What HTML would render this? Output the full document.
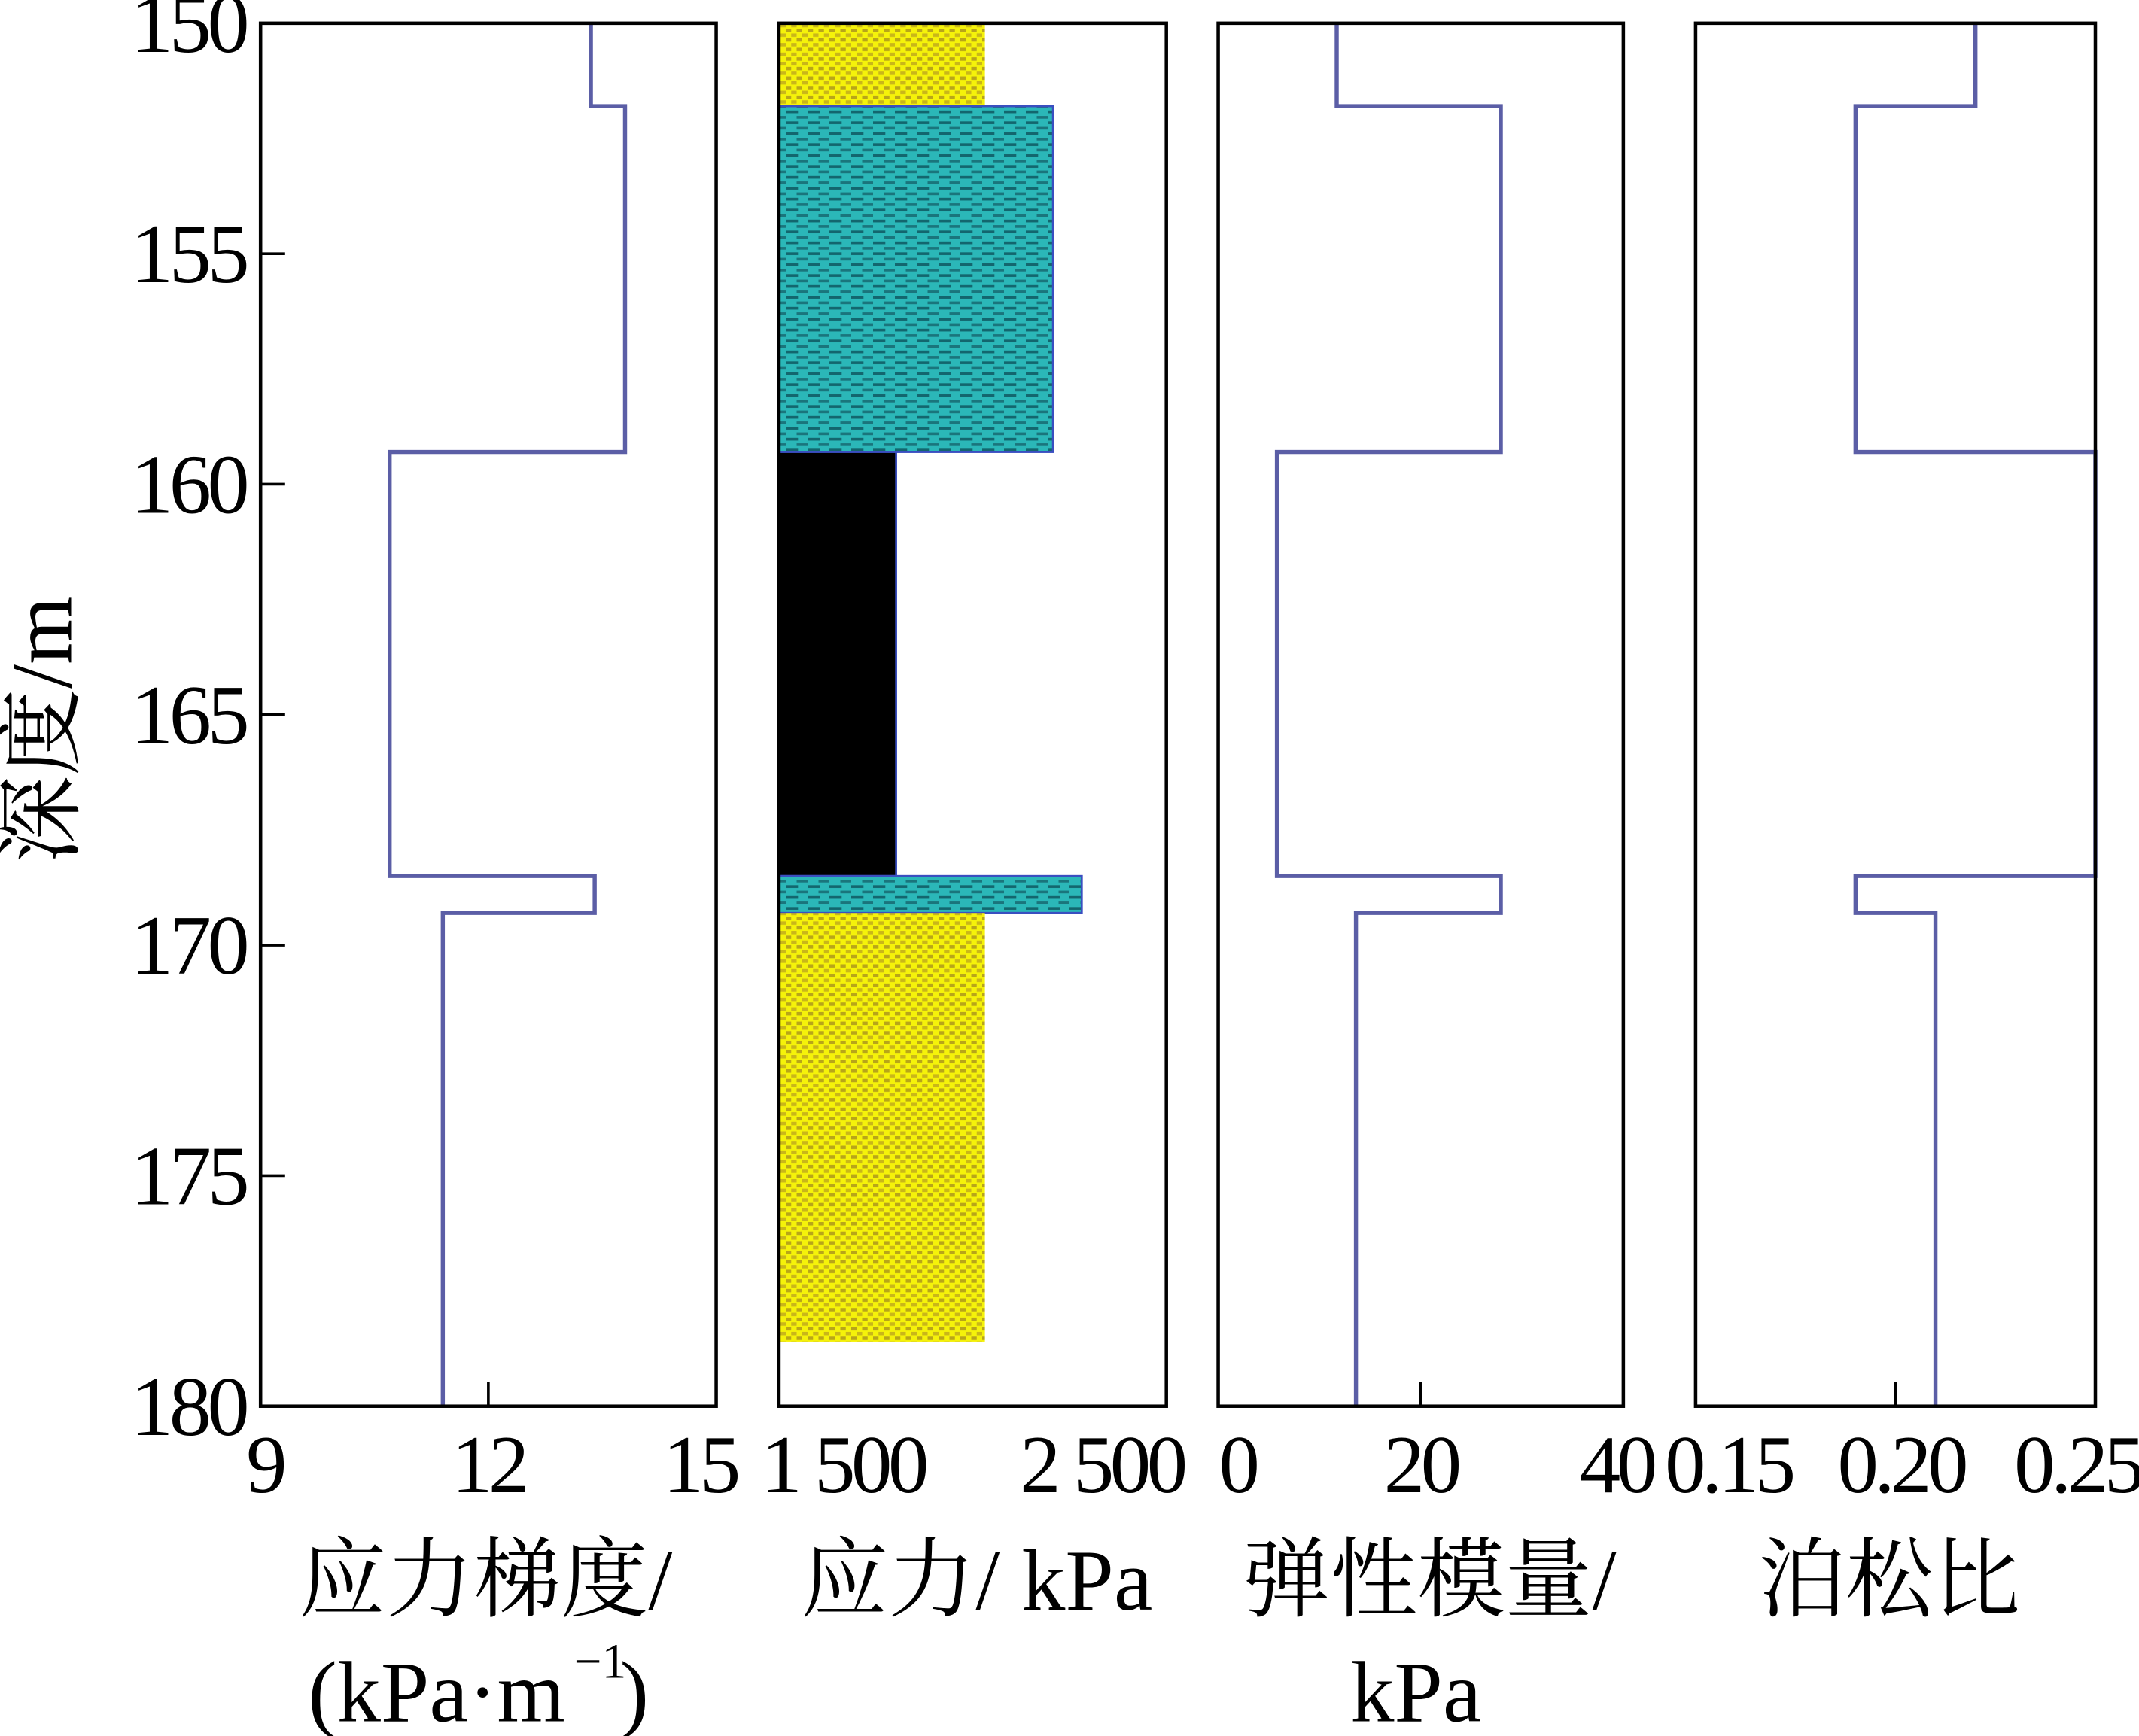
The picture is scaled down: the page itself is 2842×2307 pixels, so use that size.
<!DOCTYPE html>
<html><head><meta charset="utf-8"><style>
html,body{margin:0;padding:0;background:#fff}
svg{display:block}
text{font-family:"Liberation Serif","Noto Serif CJK SC",serif;fill:#000}
</style></head><body>
<svg id="chart" width="2842" height="2307" viewBox="0 0 1568 1272.8" xmlns="http://www.w3.org/2000/svg">
<defs>
<pattern id="pYellow" width="8" height="7" patternUnits="userSpaceOnUse">
<rect width="8" height="7" fill="#f5f20a"/>
<rect x="0" y="0" width="4" height="2.5" fill="#b8a51a"/>
<rect x="4" y="3.5" width="4" height="2.5" fill="#c9b61a"/>
</pattern>
<pattern id="pCyan" width="16" height="8" patternUnits="userSpaceOnUse">
<rect width="16" height="8" fill="#2bb7b8"/>
<rect x="0" y="1" width="9" height="2" fill="#13666e"/>
<rect x="8" y="5" width="9" height="2" fill="#1a757c"/>
</pattern>
</defs>
<g id="layer"></g>
</svg>
<script>
// depth boundaries (m)
const depthTop = [150, 151.8, 159.3, 168.5, 169.3];
const depthBot = [151.8, 159.3, 168.5, 169.3, 180];
const gradient = [13.35, 13.8, 10.7, 13.4, 11.4];
const stress = [2138, 2349, 1863, 2438, 2138];
const stressBot = [151.8, 159.3, 168.5, 169.3, 178.6];
const stressFill = ["yellow", "cyan", "black", "cyan", "yellow"];
const modulus = [11.7, 27.9, 5.8, 27.9, 13.6];
const poisson = [0.22, 0.19, 0.25, 0.19, 0.21];
const depthTicks = [150, 155, 160, 165, 170, 175, 180];

const NS = "http://www.w3.org/2000/svg";
const g = document.getElementById('layer');
const Y0 = 17, Y1 = 1031;
function yS(d){ return Y0 + (d - 150) / 30 * (Y1 - Y0); }
function mk(tag, attrs, parent){ const e = document.createElementNS(NS, tag); for (const k in attrs) e.setAttribute(k, attrs[k]); (parent||g).appendChild(e); return e; }

const panels = [
  {x0:191, x1:525, min:9, max:15, ticks:[9,12,15], labels:["9","12","15"], shift:[3,0,-12], inner:[12], name:"stress-gradient"},
  {x0:571, x1:855, min:1500, max:2700, ticks:[1500,2500], labels:["1 500","2 500"], shift:[47,0], inner:[], name:"stress"},
  {x0:893, x1:1190, min:0, max:40, ticks:[0,20,40], labels:["0","20","40"], shift:[14,0,-5], inner:[20], name:"elastic-modulus"},
  {x0:1243, x1:1536, min:0.15, max:0.25, ticks:[0.15,0.2,0.25], labels:["0.15","0.20","0.25"], shift:[24,4,-13], inner:[0.2], name:"poisson-ratio"}
];
function xS(p, v){ return p.x0 + (v - p.min) / (p.max - p.min) * (p.x1 - p.x0); }

const p2 = panels[1];
const fillMap = {yellow:"url(#pYellow)", cyan:"url(#pCyan)", black:"#000"};
for (let i = 0; i < stress.length; i++){
  const r = mk('rect', {x:p2.x0, y:yS(depthTop[i]), width:xS(p2, stress[i]) - p2.x0, height:yS(stressBot[i]) - yS(depthTop[i]), fill:fillMap[stressFill[i]], stroke:stressFill[i]==="yellow"?"none":"#3a4fc0", "stroke-width":1.5});
  
  
}
function stepLine(p, vals, name){
  let d = "";
  for (let i = 0; i < vals.length; i++){
    const x = xS(p, vals[i]);
    d += (i === 0 ? "M" : "L") + x + "," + yS(depthTop[i]) + " L" + x + "," + yS(depthBot[i]) + " ";
  }
  const e = mk('path', {d:d, fill:"none", stroke:"#5b5ea6", "stroke-width":3});
  
  
}
stepLine(panels[0], gradient, 'stress-gradient');
stepLine(panels[2], modulus, 'elastic-modulus');
stepLine(panels[3], poisson, 'poisson-ratio');

panels.forEach(p => {
  const f = mk('rect', {x:p.x0, y:Y0, width:p.x1 - p.x0, height:Y1 - Y0, fill:"none", stroke:"#000", "stroke-width":2.5});
  
  
  p.inner.forEach(v => { mk('line', {x1:xS(p, v), x2:xS(p, v), y1:Y1, y2:Y1 - 18, stroke:"#000", "stroke-width":2}); });
  p.ticks.forEach((v, i) => {
    const x = xS(p, v) + p.shift[i];
    const t = mk('text', {x:x, y:1094, "font-size":60, "text-anchor":"middle", "letter-spacing":-3});
    t.textContent = p.labels[i];
    
    
  });
});
depthTicks.forEach(v => {
  mk('line', {x1:191, x2:209, y1:yS(v), y2:yS(v), stroke:"#000", "stroke-width":2});
  const t = mk('text', {x:180, y:yS(v) + 21, "font-size":62, "text-anchor":"end", "letter-spacing":-3});
  t.textContent = v;
  
  
});
function title(txt, x, y, name){
  const t = mk('text', {x:x, y:y, "font-size":64, "text-anchor":"middle"});
  t.textContent = txt;
  
  
  return t;
}
title("应力梯度/", 356, 1180, 'stress-gradient-title');
title("(kPa·m", 320, 1262, 'stress-gradient-unit');
const sup = mk('text', {x:440, y:1230, "font-size":36, "text-anchor":"middle"}); sup.textContent = "−1";
title(")", 465, 1262, 'stress-gradient-unit-close');
title("应力/ kPa", 716, 1180, 'stress-title');
title("弹性模量/", 1048, 1180, 'elastic-modulus-title');
title("kPa", 1038, 1262, 'elastic-modulus-unit');
title("泊松比", 1385, 1180, 'poisson-ratio-title');
const yt = mk('text', {x:0, y:0, "font-size":64, "text-anchor":"middle", transform:"translate(52,535) rotate(-90)"});
yt.textContent = "深度/m";


</script>
</body></html>
